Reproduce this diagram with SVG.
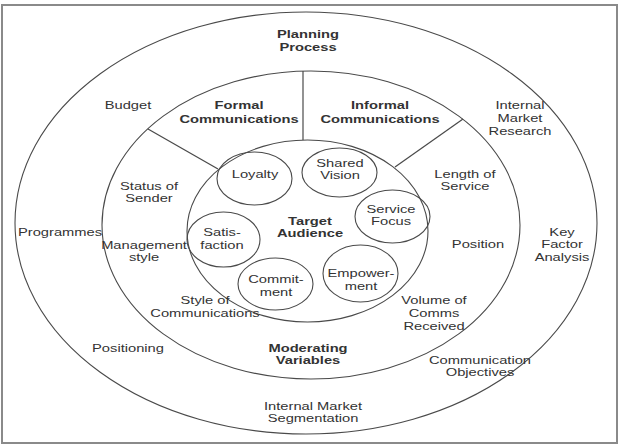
<svg xmlns="http://www.w3.org/2000/svg" width="625" height="446" viewBox="0 0 625 446">
<style>
.frame{fill:#fff;stroke:#8a8a8a;stroke-width:2}
.ring{fill:none;stroke:#4a4a4a;stroke-width:1.1}
.bub{fill:none;stroke:#4a4a4a;stroke-width:1.1}
.ln{stroke:#4a4a4a;stroke-width:1.2;fill:none}
text{font-family:"Liberation Sans",Arial,sans-serif;font-size:10.5px;fill:#333;text-anchor:middle}
.b{font-weight:bold}
</style>
<rect class="frame" x="2" y="5" width="615" height="438"/>
<g id="outer"><ellipse class="ring" cx="306" cy="223" rx="291" ry="211"/></g>
<g id="middle"><ellipse class="ring" cx="311" cy="225" rx="209" ry="154"/></g>
<g id="inner"><ellipse class="ring" cx="307.5" cy="231" rx="120.5" ry="91"/></g>
<g id="connectors">
<line class="ln" x1="303" y1="71" x2="303" y2="140"/>
<line class="ln" x1="148" y1="129" x2="218" y2="169"/>
<line class="ln" x1="463" y1="119" x2="395" y2="167"/>
</g>
<g id="loyalty"><ellipse class="bub" cx="254.5" cy="178.5" rx="37.5" ry="26.5"/><text transform="translate(255,178) scale(1.4,1)">Loyalty</text></g>
<g id="shared"><ellipse class="bub" cx="339.5" cy="172.5" rx="37.5" ry="24.5"/><text transform="translate(340,167) scale(1.4,1)"><tspan x="0">Shared</tspan><tspan x="0" dy="12.5">Vision</tspan></text></g>
<g id="service"><ellipse class="bub" cx="392.5" cy="216.5" rx="37.5" ry="26.5"/><text transform="translate(391,213) scale(1.4,1)"><tspan x="0">Service</tspan><tspan x="0" dy="12.5">Focus</tspan></text></g>
<g id="satis"><ellipse class="bub" cx="223.5" cy="239.5" rx="36.5" ry="27.5"/><text transform="translate(222,236) scale(1.4,1)"><tspan x="0">Satis-</tspan><tspan x="0" dy="13">faction</tspan></text></g>
<g id="commit"><ellipse class="bub" cx="275.5" cy="284" rx="37.5" ry="26"/><text transform="translate(276,283) scale(1.4,1)"><tspan x="0">Commit-</tspan><tspan x="0" dy="13">ment</tspan></text></g>
<g id="empower"><ellipse class="bub" cx="360.5" cy="273.5" rx="37.5" ry="28.5"/><text transform="translate(361,277) scale(1.4,1)"><tspan x="0">Empower-</tspan><tspan x="0" dy="13">ment</tspan></text></g>
<g id="target"><text class="b" transform="translate(310,224.5) scale(1.4,1)"><tspan x="0">Target</tspan><tspan x="0" dy="12.5">Audience</tspan></text></g>
<g id="planning"><text class="b" transform="translate(308,38) scale(1.4,1)"><tspan x="0">Planning</tspan><tspan x="0" dy="13.5">Process</tspan></text></g>
<g id="budget"><text transform="translate(128,109) scale(1.4,1)">Budget</text></g>
<g id="formal"><text class="b" transform="translate(239,109) scale(1.4,1)"><tspan x="0">Formal</tspan><tspan x="0" dy="14">Communications</tspan></text></g>
<g id="informal"><text class="b" transform="translate(380,109) scale(1.4,1)"><tspan x="0">Informal</tspan><tspan x="0" dy="14">Communications</tspan></text></g>
<g id="imr"><text transform="translate(520,109) scale(1.4,1)"><tspan x="0">Internal</tspan><tspan x="0" dy="13.5">Market</tspan><tspan x="0" dy="13">Research</tspan></text></g>
<g id="status"><text transform="translate(149,190) scale(1.4,1)"><tspan x="0">Status of</tspan><tspan x="0" dy="12.5">Sender</tspan></text></g>
<g id="programmes"><text transform="translate(60,236) scale(1.4,1)">Programmes</text></g>
<g id="mgmt"><text transform="translate(144,249) scale(1.4,1)"><tspan x="0">Management</tspan><tspan x="0" dy="12.5">style</tspan></text></g>
<g id="length"><text transform="translate(465,178) scale(1.4,1)"><tspan x="0">Length of</tspan><tspan x="0" dy="12.5">Service</tspan></text></g>
<g id="position"><text transform="translate(478,248) scale(1.4,1)">Position</text></g>
<g id="kfa"><text transform="translate(562,235.5) scale(1.4,1)"><tspan x="0">Key</tspan><tspan x="0" dy="13">Factor</tspan><tspan x="0" dy="13">Analysis</tspan></text></g>
<g id="style"><text transform="translate(205,304) scale(1.4,1)"><tspan x="0">Style of</tspan><tspan x="0" dy="13.5">Communications</tspan></text></g>
<g id="volume"><text transform="translate(434,304) scale(1.4,1)"><tspan x="0">Volume of</tspan><tspan x="0" dy="13.5">Comms</tspan><tspan x="0" dy="12.5">Received</tspan></text></g>
<g id="positioning"><text transform="translate(128,351.5) scale(1.4,1)">Positioning</text></g>
<g id="moderating"><text class="b" transform="translate(308,351.5) scale(1.4,1)"><tspan x="0">Moderating</tspan><tspan x="0" dy="12.5">Variables</tspan></text></g>
<g id="commobj"><text transform="translate(480,364) scale(1.4,1)"><tspan x="0">Communication</tspan><tspan x="0" dy="12.5">Objectives</tspan></text></g>
<g id="ims"><text transform="translate(313,410) scale(1.4,1)"><tspan x="0">Internal Market</tspan><tspan x="0" dy="12.5">Segmentation</tspan></text></g>
</svg>
